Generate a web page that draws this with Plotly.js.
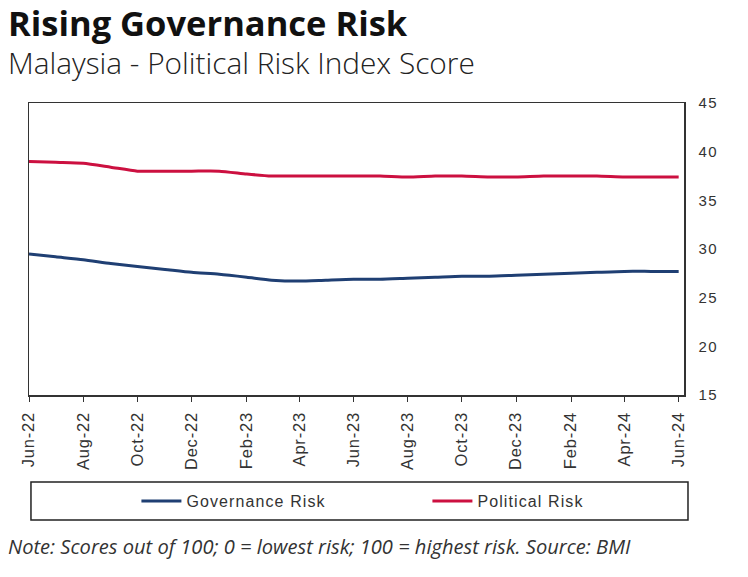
<!DOCTYPE html>
<html>
<head>
<meta charset="utf-8">
<script src="https://cdn.plot.ly/plotly-3.0.1.min.js"></script>
<style>
  html, body { margin: 0; padding: 0; background: #fff; }
  #chart { width: 748px; height: 577px; }
  .xtick text { letter-spacing: 0.8px; }
  .ytick text { letter-spacing: 1.3px; }
  .legendtext { letter-spacing: 1.1px; }
</style>
</head>
<body>
<div id="chart"></div>
<script>
const months = [
  '2022-06-01','2022-07-01','2022-08-01','2022-09-01','2022-10-01','2022-11-01','2022-12-01',
  '2023-01-01','2023-02-01','2023-03-01','2023-04-01','2023-05-01','2023-06-01','2023-07-01',
  '2023-08-01','2023-09-01','2023-10-01','2023-11-01','2023-12-01','2024-01-01','2024-02-01',
  '2024-03-01','2024-04-01','2024-05-01','2024-06-01'
];
const governanceRisk = [
  29.5, 29.2, 28.9, 28.5, 28.2, 27.9, 27.6,
  27.4, 27.1, 26.8, 26.7, 26.8, 26.9, 26.9,
  27.0, 27.1, 27.2, 27.2, 27.3, 27.4, 27.5,
  27.6, 27.7, 27.7, 27.7
];
const politicalRisk = [
  39.0, 38.9, 38.8, 38.4, 38.0, 38.0, 38.0,
  38.0, 37.7, 37.5, 37.5, 37.5, 37.5, 37.5,
  37.4, 37.5, 37.5, 37.4, 37.4, 37.5, 37.5,
  37.5, 37.4, 37.4, 37.4
];
const seriesNames = ['Governance Risk', 'Political Risk'];
const titleText = 'Rising Governance Risk';
const subtitleText = 'Malaysia - Political Risk Index Score';
const noteText = 'Note: Scores out of 100; 0 = lowest risk; 100 = highest risk. Source: BMI';

const xTickFont = {family: 'Liberation Sans, Arial, sans-serif', size: 16.5, color: '#333333'};
const yTickFont = {family: 'Liberation Sans, Arial, sans-serif', size: 15, color: '#333333'};

const traces = [
  {x: months, y: governanceRisk, name: seriesNames[0], type: 'scatter', mode: 'lines',
   line: {color: '#1f3f73', width: 3, shape: 'spline', smoothing: 0.6}},
  {x: months, y: politicalRisk, name: seriesNames[1], type: 'scatter', mode: 'lines',
   line: {color: '#cc1040', width: 3, shape: 'spline', smoothing: 0.6}}
];

const layout = {
  width: 748, height: 577,
  margin: {l: 29, r: 64, t: 103, b: 182, autoexpand: false},
  paper_bgcolor: '#ffffff', plot_bgcolor: '#ffffff',
  showlegend: true,
  xaxis: {
    type: 'date',
    range: ['2022-06-01', '2024-06-07'],
    tick0: '2022-06-01', dtick: 'M2', tickformat: '%b-%y',
    tickangle: -90, tickfont: xTickFont, ticklabelstandoff: 4,
    ticks: 'outside', ticklen: 5, tickcolor: '#333333', tickwidth: 1,
    showgrid: false, zeroline: false,
    showline: true, linecolor: '#333333', linewidth: 1.5, mirror: true
  },
  yaxis: {
    side: 'right', range: [15, 45], dtick: 5, tick0: 15,
    tickfont: yTickFont, ticks: '', ticklabelstandoff: 10,
    showgrid: false, zeroline: false,
    showline: true, linecolor: '#333333', linewidth: 1.5, mirror: true
  },
  legend: {
    orientation: 'h', x: 0.164, xanchor: 'left', y: -0.363, yanchor: 'middle',
    font: {family: 'Liberation Sans, Arial, sans-serif', size: 16, color: '#333333'},
    entrywidth: 236, entrywidthmode: 'pixels', itemwidth: 40,
    bgcolor: 'rgba(0,0,0,0)', borderwidth: 0
  },
  shapes: [
    {type: 'rect', xref: 'paper', yref: 'paper',
     x0: 0.003, x1: 1.0061, y0: -0.298, y1: -0.428,
     line: {color: '#222222', width: 1.5}, fillcolor: 'rgba(0,0,0,0)'}
  ],
  annotations: [
    {text: '<b>' + titleText + '</b>', xref: 'paper', yref: 'paper',
     x: -0.035, xanchor: 'left', y: 1.277, yanchor: 'middle', showarrow: false,
     font: {family: 'Open Sans, sans-serif', size: 34.5, color: '#111111'}},
    {text: subtitleText, xref: 'paper', yref: 'paper',
     x: -0.035, xanchor: 'left', y: 1.137, yanchor: 'middle', showarrow: false,
     font: {family: 'Open Sans, sans-serif', size: 29.8, color: '#222222', weight: 300}},
    {text: '<i>' + noteText + '</i>', xref: 'paper', yref: 'paper',
     x: -0.035, xanchor: 'left', y: -0.52, yanchor: 'middle', showarrow: false,
     font: {family: 'Open Sans, sans-serif', size: 20.1, color: '#333333'}}
  ]
};

Plotly.newPlot('chart', traces, layout, {displayModeBar: false, staticPlot: true});
</script>
</body>
</html>
